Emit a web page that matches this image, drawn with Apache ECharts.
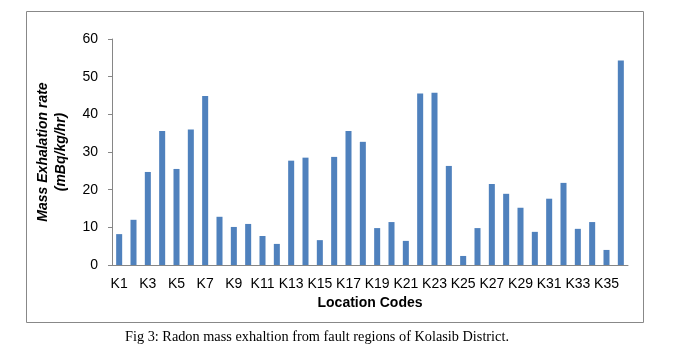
<!DOCTYPE html>
<html><head><meta charset="utf-8">
<script src="https://cdn.jsdelivr.net/npm/echarts@6/dist/echarts.min.js"></script>
<style>html,body{margin:0;padding:0;background:#fff}#c{width:674px;height:357px}</style>
</head><body><div id="c"></div>
<script>
const categories = ['K1','K2','K3','K4','K5','K6','K7','K8','K9','K10','K11','K12','K13','K14','K15','K16','K17','K18','K19','K20','K21','K22','K23','K24','K25','K26','K27','K28','K29','K30','K31','K32','K33','K34','K35','K36'];
const massExhalation = [8.2,12.0,24.7,35.6,25.5,36.0,44.9,12.8,10.1,10.9,7.7,5.6,27.7,28.5,6.6,28.7,35.6,32.7,9.8,11.4,6.4,45.5,45.7,26.3,2.4,9.8,21.5,18.9,15.2,8.8,17.6,21.8,9.6,11.4,4.0,54.3];
const yTicks = [0,10,20,30,40,50,60];
const yTitle = 'Mass Exhalation rate\n(mBq/kg/hr)';
const xTitle = 'Location Codes';
const caption = 'Fig 3: Radon mass exhaltion from fault regions of Kolasib District.';

const chart = echarts.init(document.getElementById('c'), null, {renderer:'canvas'});
const F = 'Liberation Sans';
chart.setOption({
  animation:false,
  grid:{left:112,right:46,top:39,bottom:92,containLabel:false},
  xAxis:{type:'category',data:categories,
    axisLine:{lineStyle:{color:'#868686'}},
    axisTick:{show:false},
    axisLabel:{interval:1,color:'#000',fontFamily:F,fontSize:14,margin:12,hideOverlap:false},
    name:xTitle,nameLocation:'middle',nameGap:26,
    nameTextStyle:{fontFamily:F,fontSize:14,fontWeight:'bold',color:'#000'}},
  yAxis:{type:'value',min:yTicks[0],max:yTicks[yTicks.length-1],interval:10,
    axisLine:{show:true,lineStyle:{color:'#868686'}},
    axisTick:{show:true,length:4,lineStyle:{color:'#868686'}},
    splitLine:{show:false},
    axisLabel:{color:'#000',fontFamily:F,fontSize:14,margin:14},
    name:yTitle,nameLocation:'middle',nameGap:42,nameRotate:90,
    nameTextStyle:{fontFamily:F,fontSize:14,fontWeight:'bold',fontStyle:'italic',color:'#000',lineHeight:18,align:'center'}},
  series:[{type:'bar',data:massExhalation,barWidth:'42%',itemStyle:{color:'#4F81BD'}}],
  graphic:[
    {type:'rect',shape:{x:26.5,y:11.5,width:617,height:311},style:{fill:null,stroke:'#888',lineWidth:1},silent:true},
    {type:'text',left:125,top:330,style:{text:caption,fontFamily:'Liberation Serif',fontSize:14.3,fill:'#000'}}
  ]
});
</script></body></html>
